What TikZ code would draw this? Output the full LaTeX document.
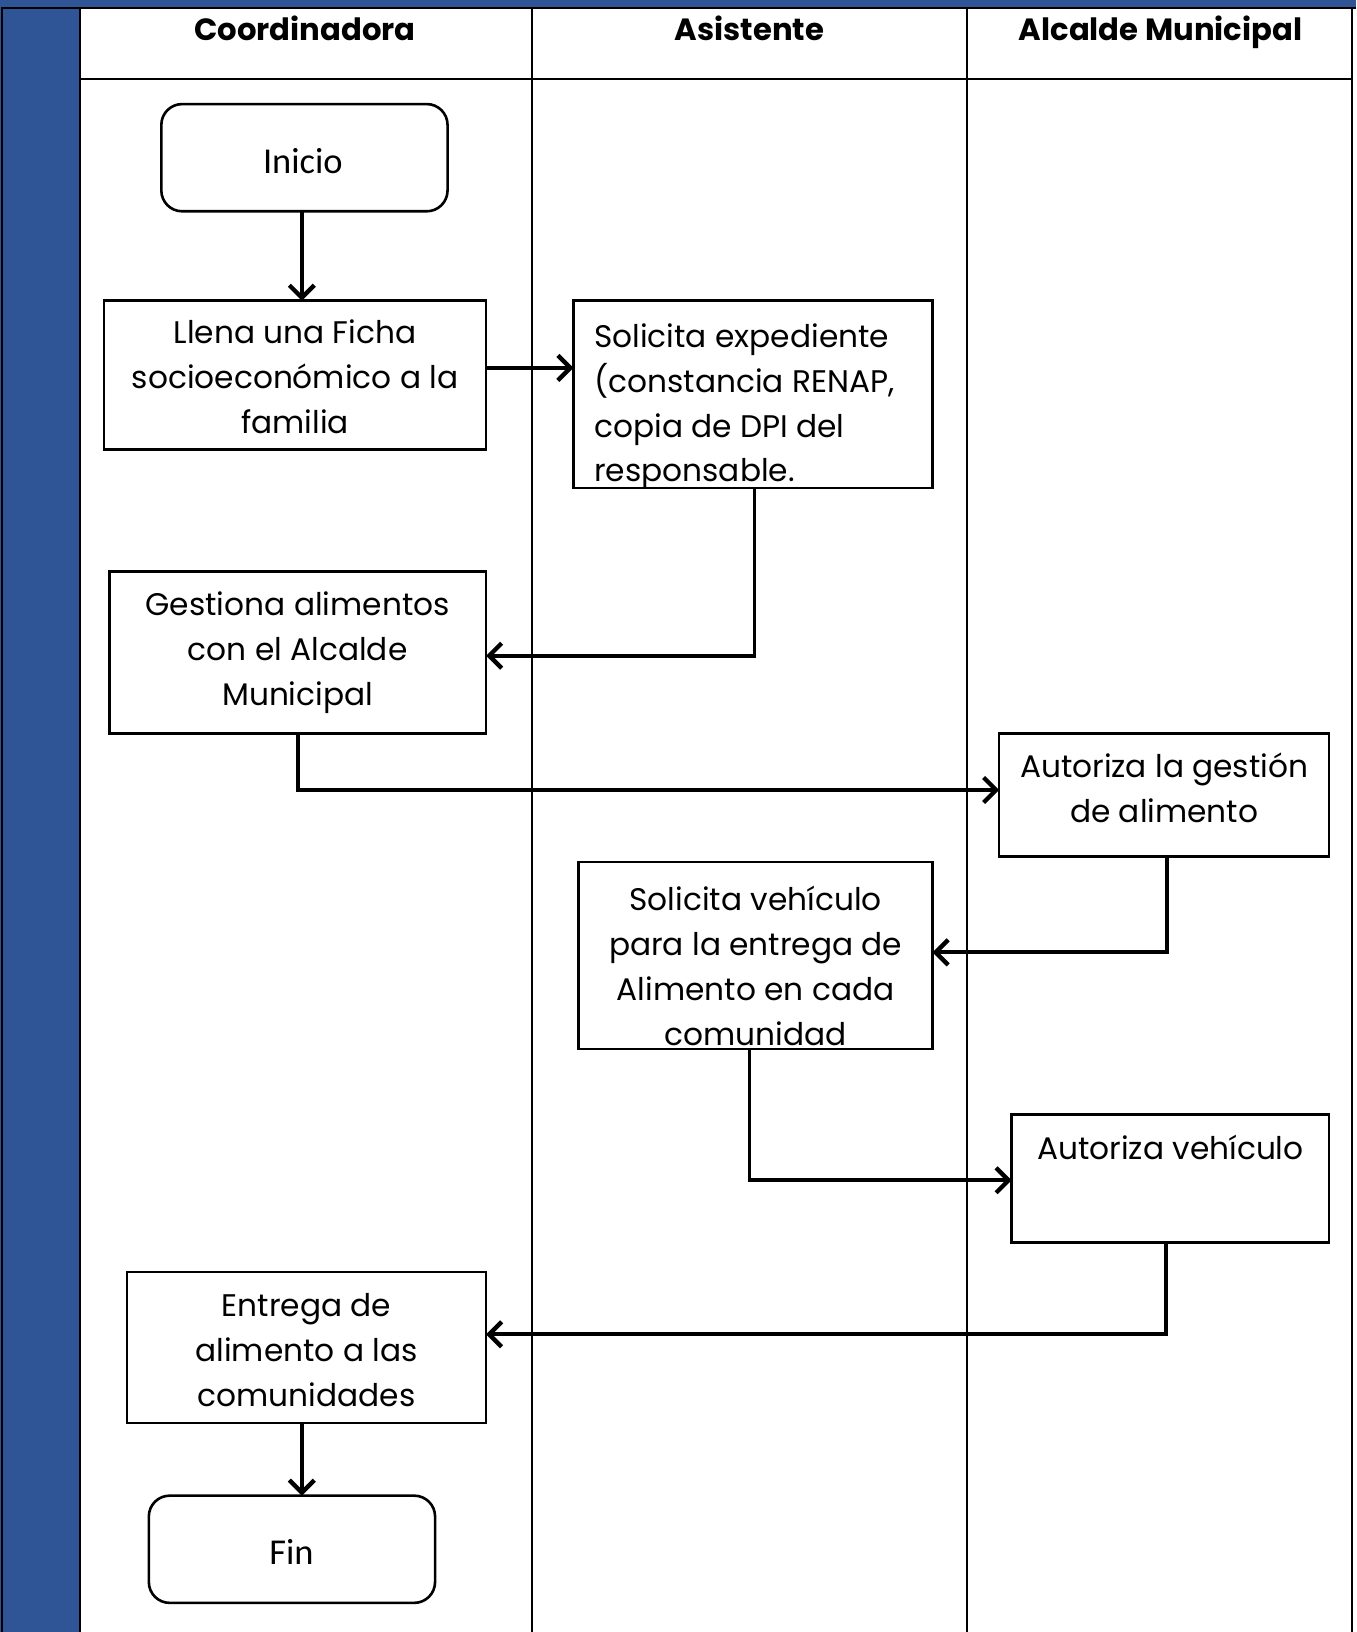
\documentclass[tikz,border=0pt]{standalone}
\usepackage{fontspec}
\setmainfont{Poppins}
\newfontfamily\calfont{Carlito}
\usetikzlibrary{arrows.meta,calc}
\definecolor{barblue}{RGB}{47,85,151}
\begin{document}
\begin{tikzpicture}[x=1pt,y=-1pt,
  every node/.style={inner sep=0pt, outer sep=0pt},
  lane/.style={line width=2pt, draw=black},
  proc/.style={draw, line width=2.5pt, rectangle},
  term/.style={draw, line width=2.5pt, rectangle, rounded corners=20pt},
  body/.style={font=\fontsize{30}{43}\selectfont, align=center},
  termtxt/.style={font=\calfont\fontsize{35}{40}\selectfont},
  head/.style={font=\bfseries\fontsize{29.5}{34}\selectfont, anchor=base},
  conn/.style={line width=3.6pt, -{Straight Barb[length=12pt,width=24pt,line width=4.2pt]}}
]
\useasboundingbox (0,0) rectangle (1303,1568);
\fill[white] (0,0) rectangle (1303,1568);
\fill[barblue] (0,0) rectangle (1303,8);
\fill[barblue] (0,8) rectangle (77,1568);
% frame and lanes
\draw[lane] (1,8) -- (1303,8);
\draw[lane] (2,8) -- (2,1568);
\draw[lane] (77,8) -- (77,1568);
\draw[line width=1.3pt] (1299,8) -- (1299,1568);
\draw[lane] (77,76) -- (1299,76);
\draw[lane] (511,8) -- (511,1568);
\draw[lane] (929,8) -- (929,1568);
% headers
\node[head] (h1) at (293,39) {Coordinadora};
\node[head] (h2) at (720,39) {Asistente};
\node[head] (h3) at (1115,39) {Alcalde Municipal};
% terminals
\node[term, minimum width=275pt, minimum height=103pt] (ini) at (292.5,151.5) {};
\node[termtxt] (initxt) at (291,155) {Inicio};
\node[term, minimum width=275pt, minimum height=103pt] (fin) at (280.5,1488.5) {};
\node[termtxt] (fintxt) at (280,1491) {Fin};
% process boxes
\node[proc, minimum width=367pt, minimum height=143pt] (llena) at (283.5,360.5) {};
\node[body] (llenatxt) at (283.5,362) {Llena una Ficha\\socioecon\'omico a la\\familia};
\node[proc, minimum width=345pt, minimum height=180pt] (solexp) at (723.5,379) {};
\begin{scope}
\clip (solexp.north west) rectangle (solexp.south east);
\node[body, align=left, anchor=west] (solexptxt) at (571,391) {Solicita expediente\\(constancia RENAP,\\copia de DPI del\\responsable.};
\end{scope}
\draw[line width=2.5pt] (solexp.north west) rectangle (solexp.south east);
\node[proc, minimum width=362pt, minimum height=156pt] (gest) at (286,627) {};
\node[body] (gesttxt) at (286,627) {Gestiona alimentos\\con el Alcalde\\Municipal};
\node[proc, minimum width=317pt, minimum height=118pt] (autg) at (1118.5,764) {};
\node[body] (autgtxt) at (1118.5,757) {Autoriza la gesti\'on\\de alimento};
\node[proc, minimum width=340pt, minimum height=180pt] (solv) at (726,918) {};
\begin{scope}
\clip (solv.north west) rectangle (solv.south east);
\node[body] (solvtxt) at (726,928) {Solicita veh\'iculo\\para la entrega de\\Alimento en cada\\comunidad};
\end{scope}
\draw[line width=2.5pt] (solv.north west) rectangle (solv.south east);
\node[proc, minimum width=305pt, minimum height=123pt] (autv) at (1124.5,1132.5) {};
\node[body] (autvtxt) at (1124.5,1102) {Autoriza veh\'iculo};
\node[proc, minimum width=345pt, minimum height=145pt] (entr) at (294.5,1294.5) {};
\node[body] (entrtxt) at (294.5,1297) {Entrega de\\alimento a las\\comunidades};
% connectors
\coordinate (c1) at ([xshift=-2.5pt]ini.south);
\draw[conn] (c1) -- (c1 |- llena.north);
\coordinate (c2) at ([yshift=7pt]llena.east);
\draw[conn] (c2) -- (c2 -| solexp.west);
\draw[conn] ([xshift=1.5pt]solexp.south) |- ([yshift=-3pt]gest.east);
\draw[conn] (gest.south) |- ([yshift=5pt]autg.west);
\draw[conn] ([xshift=2.5pt]autg.south) |- ([yshift=3pt]solv.east);
\draw[conn] ([xshift=-6pt]solv.south) |- ([yshift=-1.5pt]autv.west);
\draw[conn] ([xshift=-4.5pt]autv.south) |- ([yshift=12.5pt]entr.east);
\coordinate (c3) at ([xshift=-4.5pt]entr.south);
\draw[conn] (c3) -- (c3 |- fin.north);
\end{tikzpicture}
\end{document}
